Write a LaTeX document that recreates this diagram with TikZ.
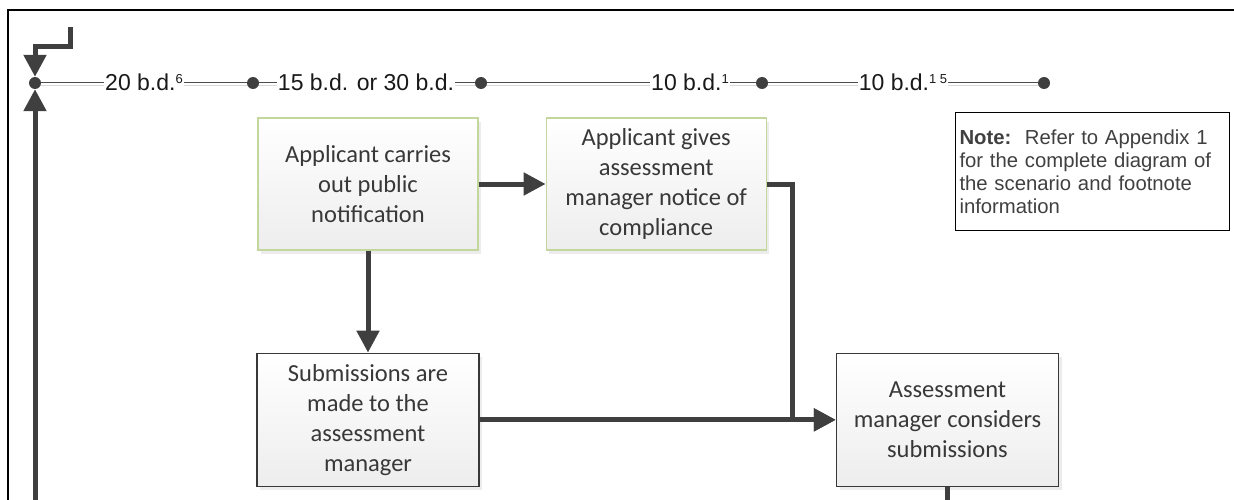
\documentclass[tikz,border=0pt]{standalone}
\usepackage{fontspec}
\setmainfont{Carlito}
\newfontfamily\arialfont{Liberation Sans}
\usepackage{tikz}
\usetikzlibrary{backgrounds,shadows}
\usetikzlibrary{positioning,arrows.meta}
\definecolor{boxgrey}{HTML}{383838}
\definecolor{boxgreen}{HTML}{C3D69B}
\definecolor{inkgrey}{HTML}{3F3F3F}
\newcommand{\fnmark}[1]{\raisebox{7pt}{\fontsize{13}{13}\selectfont #1}}

\begin{document}
\begin{tikzpicture}[x=1pt,y=-1pt,
box/.style={rectangle,align=center,text=boxgrey,top color=white,bottom color=black!7,
  font=\fontsize{24.5}{30}\selectfont,
  drop shadow={opacity=0.15,shadow xshift=3pt,shadow yshift=-4pt}},
greenbox/.style={box,draw=boxgreen,line width=1.2pt,minimum width=220pt,minimum height=132pt},
greybox/.style={box,draw=boxgrey,line width=1.5pt,minimum width=222pt,minimum height=133pt},
flow/.style={draw=inkgrey,line width=5pt,-{Triangle[length=22pt,width=22pt]}},
joint/.style={circle,fill=inkgrey,inner sep=0pt,minimum size=12pt},
span/.style={fill=white,inner sep=1pt,anchor=base,text=black!90,
  font=\arialfont\fontsize{23}{27}\selectfont},
note/.style={draw=black,line width=1pt,anchor=north west,align=left,
  minimum width=274pt,minimum height=118pt,text width=266pt,inner sep=4pt,
  text=black!75,font=\arialfont\fontsize{20.3}{23}\selectfont}]
\clip (0,0) rectangle (1234,500);
\useasboundingbox (0,0) rectangle (1234,500);

% frame
\draw[line width=2pt] (8,505) -- (8,10) -- (1240,10);

% time line
\node[joint] (t0) at (35,83) {};
\node[joint] (t1) at (253,83) {};
\node[joint] (t2) at (481,83) {};
\node[joint] (t3) at (762,83) {};
\node[joint] (t4) at (1044,83) {};
\begin{scope}[on background layer]
\draw[black!15,line width=1.5pt] ([yshift=-2.5pt]t0.center) -- ([yshift=-2.5pt]t4.center);
\draw[black!70,line width=1pt] (t0.center) -- (t4.center);
\end{scope}
\node[span] (d1) at (144,91) {20 b.d.\fnmark{6}};
\node[span] (d2) at (366,91) {15 b.d. or 30 b.d.};
\node[span] (d3) at (690,91) {10 b.d.\fnmark{1}};
\node[span] (d4) at (903,91) {10 b.d.\fnmark{1 5}};

% boxes
\node[greenbox] (notify) at (368,184) {Applicant carries\\out public\\notification};
\node[greenbox,right=67pt of notify] (comply) {Applicant gives\\assessment\\manager notice of\\compliance};
\node[greybox,below=102pt of notify] (submit) {Submissions are\\made to the\\assessment\\manager};
\node[greybox,right=356pt of submit] (consider) {Assessment\\manager considers\\submissions};

\node[note] (note) at (955,112) {\textbf{Note:}\ \ Refer to Appendix 1\\for the complete diagram of\\the scenario and footnote\\information};

% connectors
\coordinate (entry) at (70,27);
\coordinate (back) at (35,510);
\coordinate (onward) at (consider.south |- back);
\draw[flow] (entry) -- ++(0,20) -| (t0.north);
\draw[flow] (back) -- (t0.south);
\draw[flow] (notify) -- (comply);
\draw[flow] (notify.south) -- (notify.south |- submit.north);
\draw[flow] (submit) -- (consider);
\draw[flow] (comply.east) -- ++(26,0) |- (consider.west);
\draw[draw=inkgrey,line width=5pt] (consider.south) -- (onward);
\end{tikzpicture}
\end{document}
